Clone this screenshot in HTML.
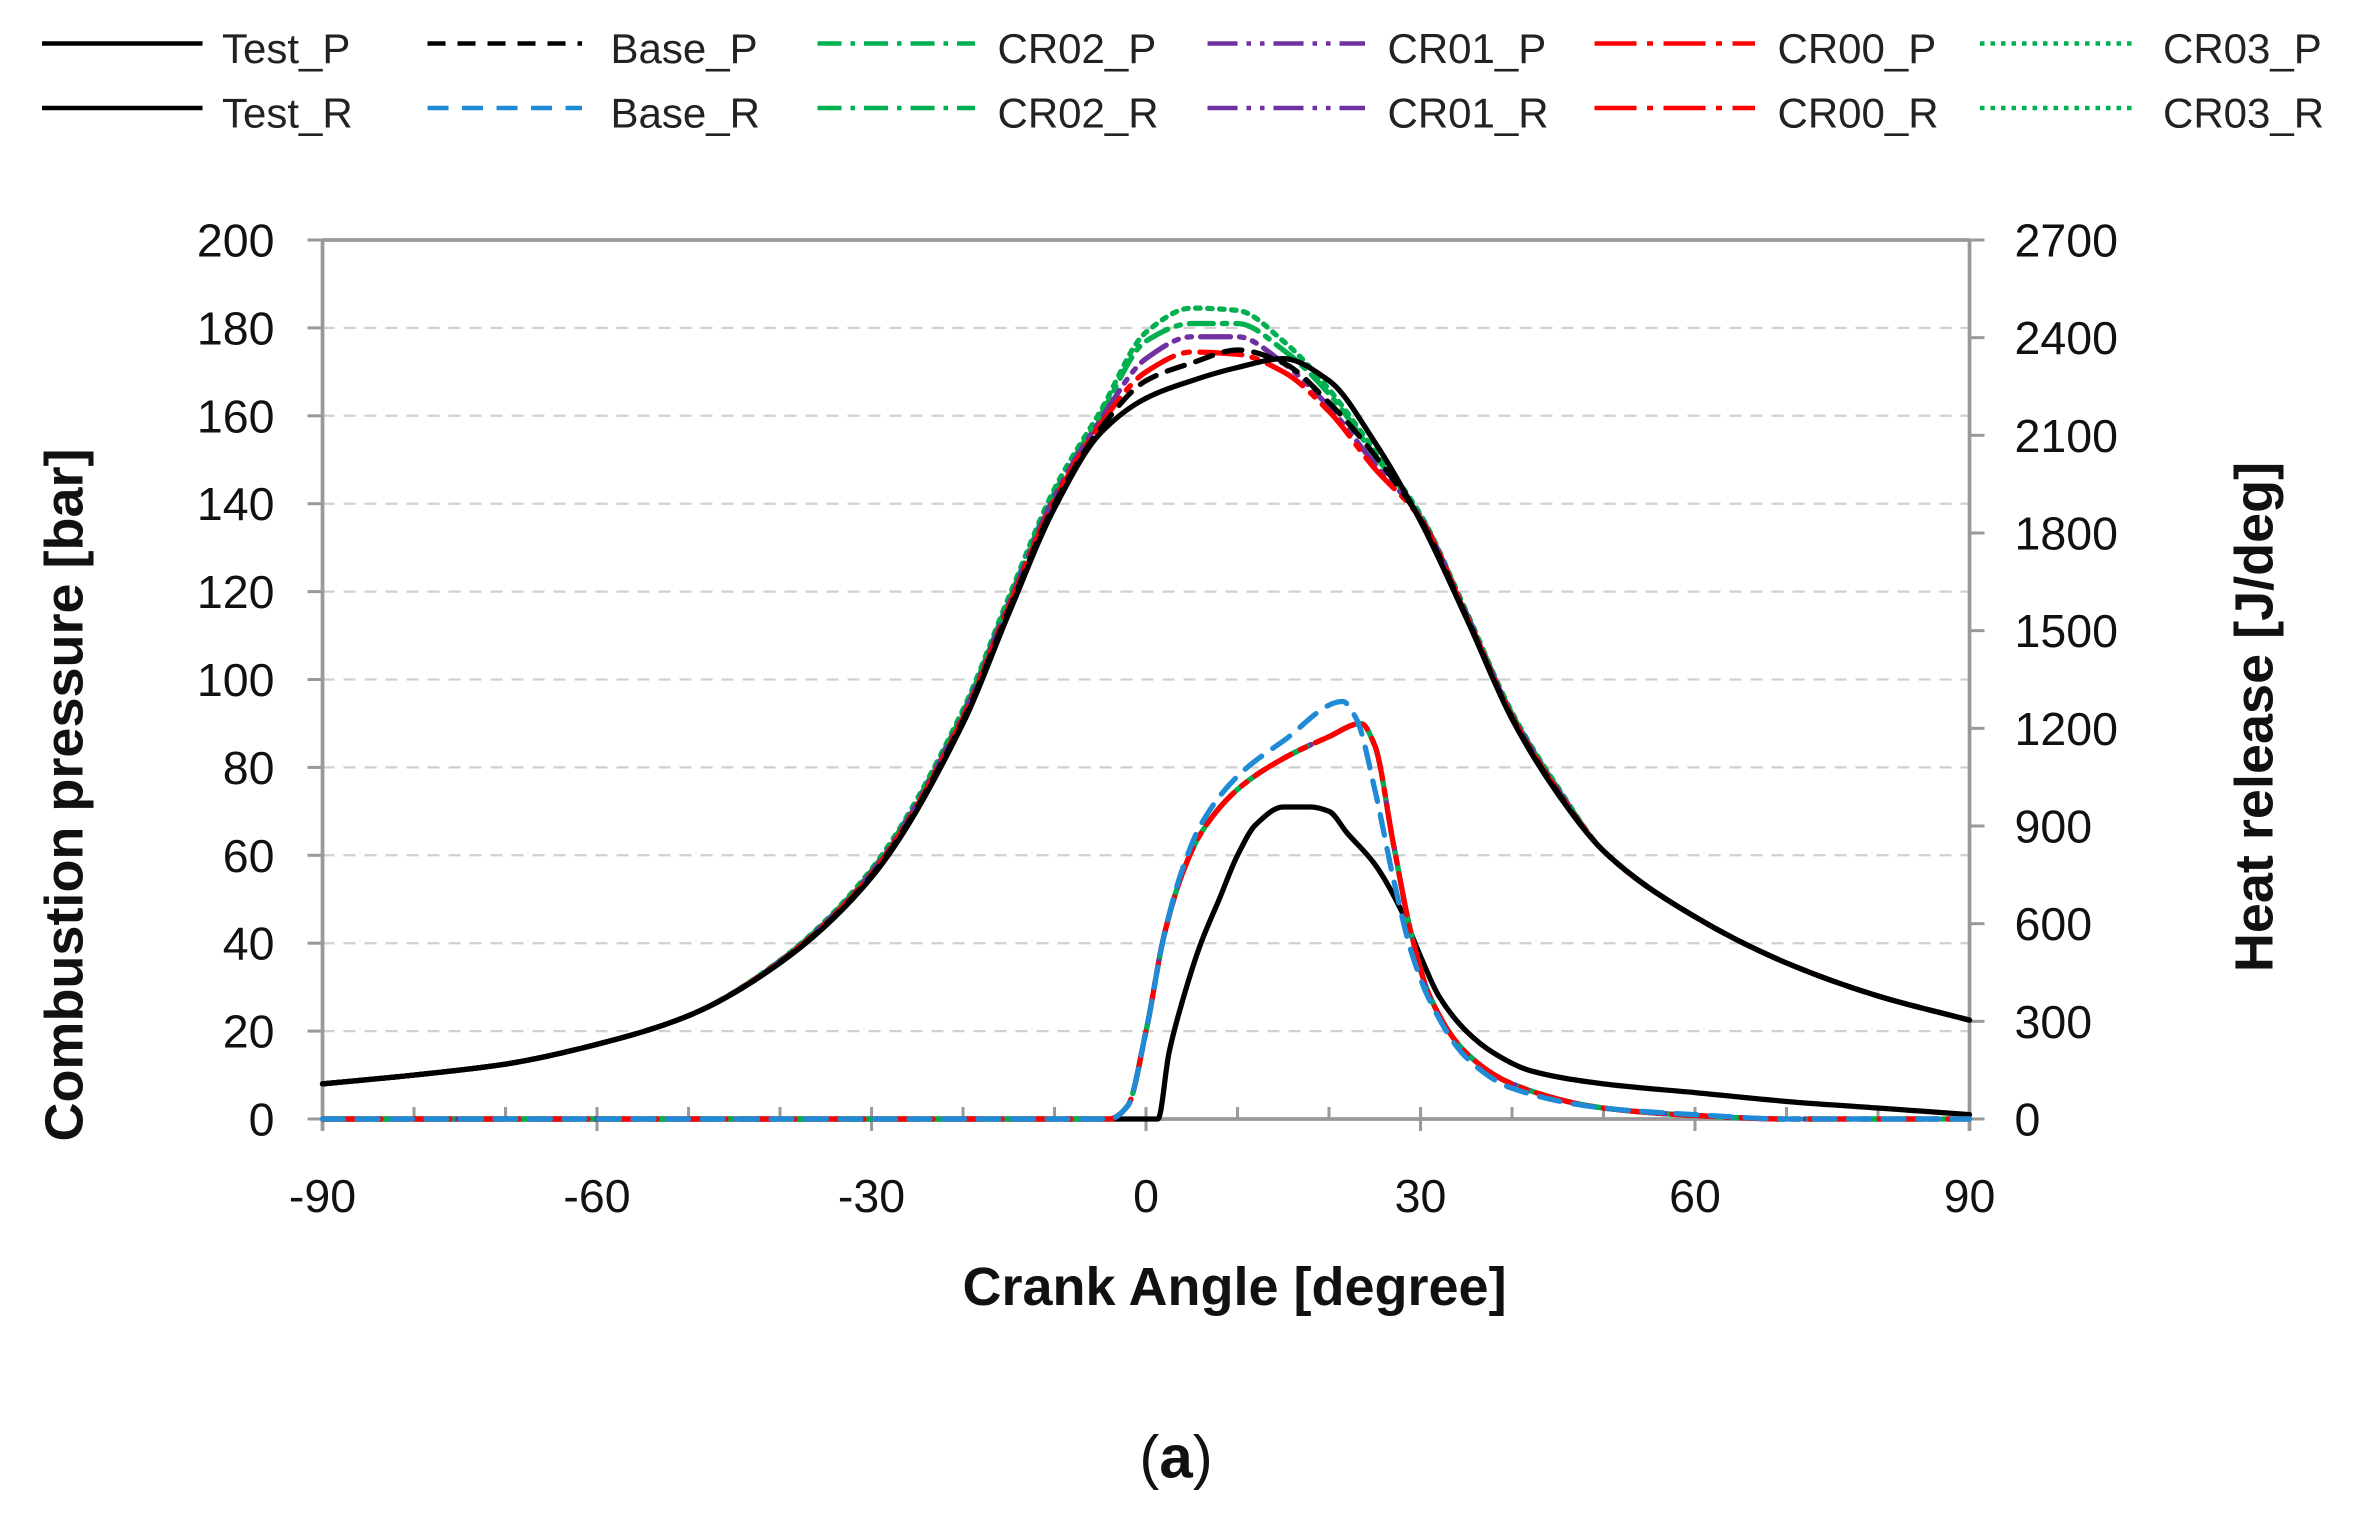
<!DOCTYPE html>
<html><head><meta charset="utf-8"><style>
html,body{margin:0;padding:0;background:#fff;}
svg{display:block;}
text{font-family:"Liberation Sans",sans-serif;}
</style></head><body>
<svg id="s" width="2354" height="1521" viewBox="0 0 1569.3 1014" xmlns="http://www.w3.org/2000/svg">
<g id="grid"></g>
<g font-size="28" fill="#222">
<line x1="28" y1="29" x2="135" y2="29" stroke="#000" stroke-width="3"/><text x="148" y="42">Test_P</text>
<line x1="28" y1="72" x2="135" y2="72" stroke="#000" stroke-width="3"/><text x="148" y="85">Test_R</text>
<line x1="285" y1="29" x2="388" y2="29" stroke="#000" stroke-width="3" stroke-dasharray="12,8"/><text x="407" y="42">Base_P</text>
<line x1="285" y1="72" x2="388" y2="72" stroke="#1f8ad6" stroke-width="3" stroke-dasharray="14,9"/><text x="407" y="85">Base_R</text>
<line x1="545" y1="29" x2="650" y2="29" stroke="#00b050" stroke-width="3" stroke-dasharray="16,6,3,6"/><text x="665" y="42">CR02_P</text>
<line x1="545" y1="72" x2="650" y2="72" stroke="#00b050" stroke-width="3" stroke-dasharray="16,6,3,6"/><text x="665" y="85">CR02_R</text>
<line x1="805" y1="29" x2="910" y2="29" stroke="#7030a0" stroke-width="3" stroke-dasharray="20,6,3,6,3,6"/><text x="925" y="42">CR01_P</text>
<line x1="805" y1="72" x2="910" y2="72" stroke="#7030a0" stroke-width="3" stroke-dasharray="20,6,3,6,3,6"/><text x="925" y="85">CR01_R</text>
<line x1="1063" y1="29" x2="1170" y2="29" stroke="#ff0000" stroke-width="3" stroke-dasharray="28,7,4,7"/><text x="1185" y="42">CR00_P</text>
<line x1="1063" y1="72" x2="1170" y2="72" stroke="#ff0000" stroke-width="3" stroke-dasharray="28,7,4,7"/><text x="1185" y="85">CR00_R</text>
<line x1="1320" y1="29" x2="1425" y2="29" stroke="#00b050" stroke-width="3" stroke-dasharray="3,4"/><text x="1442" y="42">CR03_P</text>
<line x1="1320" y1="72" x2="1425" y2="72" stroke="#00b050" stroke-width="3" stroke-dasharray="3,4"/><text x="1442" y="85">CR03_R</text>
</g>
<g id="axes"></g>
<g id="series" fill="none" stroke-linejoin="round" stroke-linecap="round"></g>
<text x="55" y="530" transform="rotate(-90 55 530)" text-anchor="middle" font-size="36" font-weight="bold" fill="#111">Combustion pressure [bar]</text>
<text x="1515" y="478" transform="rotate(-90 1515 478)" text-anchor="middle" font-size="36" font-weight="bold" fill="#111">Heat release [J/deg]</text>
<text x="823" y="870" text-anchor="middle" font-size="36" font-weight="bold" fill="#111">Crank Angle [degree]</text>
<text x="784" y="985" text-anchor="middle" font-size="40" font-family="Liberation Serif,serif" fill="#111">(<tspan font-weight="bold">a</tspan>)</text>
</svg>
<script>
const NS="http://www.w3.org/2000/svg";
const X0=215,X1=1313,Y0=746,Y1=160;
const fx=a=>X0+(a+90)/180*(X1-X0), fy=v=>Y0-v/200*(Y0-Y1);
function el(p,t,at,txt){const e=document.createElementNS(NS,t);for(const k in at)e.setAttribute(k,at[k]);if(txt!=null)e.textContent=txt;p.appendChild(e);return e;}
const g=document.getElementById('grid'),ax=document.getElementById('axes'),S=document.getElementById('series');
for(let v=20;v<=180;v+=20)el(g,'line',{x1:X0,x2:X1,y1:fy(v),y2:fy(v),stroke:'#d0d0d0','stroke-width':1.5,'stroke-dasharray':'8,6'});
el(ax,'line',{x1:X0,x2:X1,y1:Y1,y2:Y1,stroke:'#999','stroke-width':2.5});
el(ax,'line',{x1:X0,x2:X0,y1:Y1,y2:Y0+8,stroke:'#999','stroke-width':2.5});
el(ax,'line',{x1:X1,x2:X1,y1:Y1,y2:Y0+8,stroke:'#999','stroke-width':2.5});
el(ax,'line',{x1:X0,x2:X1,y1:Y0,y2:Y0,stroke:'#999','stroke-width':2.5});
for(let v=0;v<=200;v+=20){el(ax,'line',{x1:X0-10,x2:X0,y1:fy(v),y2:fy(v),stroke:'#999','stroke-width':2});
 el(ax,'text',{x:183,y:fy(v)+11,'text-anchor':'end','font-size':31,fill:'#111'},v);}
for(let i=0;i<=9;i++){const y=Y0-i*(Y0-Y1)/9;el(ax,'line',{x1:X1,x2:X1+10,y1:y,y2:y,stroke:'#999','stroke-width':2});
 el(ax,'text',{x:1343,y:y+11,'font-size':31,fill:'#111'},i*300);}
for(let a=-90;a<=90;a+=10){el(ax,'line',{x1:fx(a),x2:fx(a),y1:Y0-8,y2:Y0+(a%30==0?8:0),stroke:'#999','stroke-width':2});}
for(let a=-90;a<=90;a+=30)el(ax,'text',{x:fx(a),y:808,'text-anchor':'middle','font-size':31,fill:'#111'},a);
function path(pts){
 const n=pts.length,xs=pts.map(p=>p[0]),ys=pts.map(p=>p[1]);
 const d=[],m=[];
 for(let i=0;i<n-1;i++)d.push((ys[i+1]-ys[i])/(xs[i+1]-xs[i]));
 m[0]=d[0];m[n-1]=d[n-2];
 for(let i=1;i<n-1;i++){ if(d[i-1]*d[i]<=0)m[i]=0; else {const h0=xs[i]-xs[i-1],h1=xs[i+1]-xs[i];const w1=2*h1+h0,w2=h1+2*h0;m[i]=(w1+w2)/(w1/d[i-1]+w2/d[i]);}}
 let s='M'+fx(xs[0]).toFixed(1)+','+fy(ys[0]).toFixed(1);
 for(let i=0;i<n-1;i++){const h=xs[i+1]-xs[i];
  s+=` C${fx(xs[i]+h/3).toFixed(1)},${fy(ys[i]+m[i]*h/3).toFixed(1)} ${fx(xs[i+1]-h/3).toFixed(1)},${fy(ys[i+1]-m[i+1]*h/3).toFixed(1)} ${fx(xs[i+1]).toFixed(1)},${fy(ys[i+1]).toFixed(1)}`;}
 return s;}
const base=[[-90,8],[-80,10],[-70,12.5],[-60,17],[-50,23.5],[-40,35.5],[-30,55],[-20,90],[-15,115],[-10,139],[-5,156]];
const tail=[[30,136],[35,114],[40,91],[45,74],[50,61],[60,46],[70,35.5],[80,28],[90,22.5]];
function P(extra,bump){return base.map(p=>[p[0],p[1]+(p[0]>-45?bump*(p[0]+45)/40:0)]).concat(extra).concat(tail.map(p=>[p[0],p[1]+(p[0]<50?bump*0.3:0)]));}
const testP=base.concat([[0,164],[5,168],[10,171],[15,173],[20,168],[25,154]]).concat(tail);
const baseP=P([[0,168],[5,172],[10,175],[15,172],[20,163],[25,151]],1);
const cr00P=P([[0,170],[5,174.5],[10,174],[15,170],[20,161],[25,148]],2);
const cr01P=P([[0,173],[5,178],[10,178],[15,172],[20,162],[25,149]],3);
const cr02P=P([[0,177],[5,181],[10,181],[15,175],[20,165],[25,151]],4);
const cr03P=P([[0,179],[5,184.5],[10,184],[15,177],[20,166],[25,152]],5);
const z=[[-90,0],[-10,0],[-4,0]];
const crR=z.concat([[-2,3],[0,20],[2,42],[4,56],[6,65],[10,75],[15,82],[20,87],[23.5,90],[25,85],[27,63],[29,42],[31,28],[35,15],[40,8],[50,2.5],[60,0.8],[70,0],[90,0]]);
const baseR=z.concat([[-2,3],[0,20],[2,42],[4,57],[6,67],[10,78],[15,86],[21.5,95],[23,91],[25,75],[27,55],[29,38],[31,27],[35,14],[40,7],[50,2.5],[60,1],[70,0],[90,0]]);
const testR=[[-90,0],[0,0],[1.3,0],[2.5,15],[4,27],[6,40],[8,50],[10,60],[12,67],[15,71],[18,71],[20,70],[22,65],[25,58],[28,47],[30,37],[32,28],[35,20],[38,15],[42,11],[50,8],[60,6],[70,4],[80,2.5],[90,1]];
const st=[
 [testR,'#000',3.5,''],
 [crR,'#00b050',3.5,'4,5'],[crR,'#7030a0',3.5,'20,6,3,6'],[crR,'#00b050',3.5,'16,6,3,6'],[crR,'#ff0000',3.5,'28,7,4,7'],
 [baseR,'#1f8ad6',3.5,'14,9'],
 [cr03P,'#00b050',3.5,'3,5'],[cr02P,'#00b050',3.5,'16,6,3,6'],[cr01P,'#7030a0',3.5,'20,6,3,6,3,6'],[cr00P,'#ff0000',3.5,'28,7,4,7'],[baseP,'#000',3.5,'12,8'],[testP,'#000',3.5,'']
];
for(const s of st)el(S,'path',{d:path(s[0]),stroke:s[1],'stroke-width':s[2],'stroke-dasharray':s[3]});
</script>
</body></html>
